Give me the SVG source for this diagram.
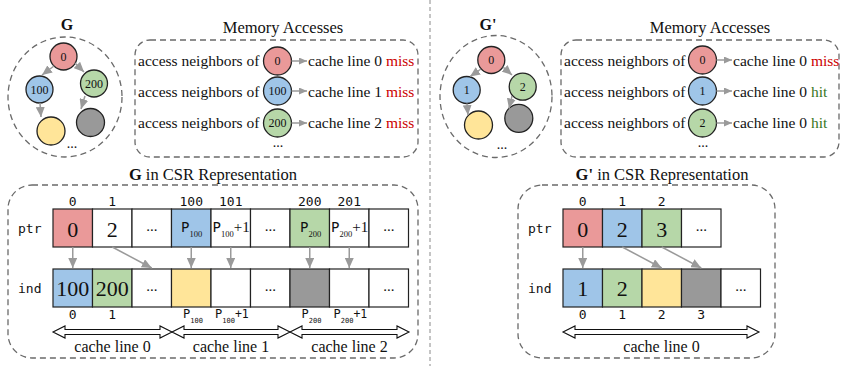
<svg xmlns="http://www.w3.org/2000/svg" width="842" height="366" viewBox="0 0 842 366">
  <style>
    .bg { fill: #ffffff; }
    .dash { fill: none; stroke: #6a6a6a; stroke-width: 1.3; stroke-dasharray: 6 4; }
    .divider { stroke: #8a8a8a; stroke-width: 1; stroke-dasharray: 4 3; }
    .node { stroke: #222; stroke-width: 1.3; }
    .cell { stroke: #222; stroke-width: 1.2; }
    .red { fill: #ea9999; }
    .blue { fill: #9fc5e8; }
    .green { fill: #b6d7a8; }
    .yellow { fill: #ffe599; }
    .gray { fill: #999999; }
    .white { fill: #ffffff; }
    .serif { font-family: "Liberation Serif", "Times New Roman", serif; fill: #111; }
    .mono { font-family: "DejaVu Sans Mono", monospace; fill: #111; }
    .title { font-size: 16.5px; }
    .row { font-size: 15.5px; }
    .nlabel { font-size: 12px; text-anchor: middle; }
    .big { font-size: 22px; text-anchor: middle; }
    .idx { font-size: 13px; text-anchor: middle; }
    .sub { font-size: 8.5px; }
    .msub { font-size: 7px; }
    .miss { fill: #cc0000; }
    .hit { fill: #38761d; }
    .link { stroke: #9a9a9a; stroke-width: 1.5; fill: none; }
    .span { fill: #ffffff; stroke: #111; stroke-width: 1.1; }
  </style>
  <defs>
    <marker id="tri" markerUnits="userSpaceOnUse" markerWidth="10" markerHeight="9" refX="10" refY="4.5" orient="auto">
      <path d="M0,0 L10,4.5 L0,9 z" fill="#9a9a9a"/>
    </marker>
    <marker id="tri-s" markerUnits="userSpaceOnUse" markerWidth="8" markerHeight="7" refX="8" refY="3.5" orient="auto">
      <path d="M0,0 L8,3.5 L0,7 z" fill="#9a9a9a"/>
    </marker>
  </defs>

  <rect class="bg" x="0" y="0" width="842" height="366"/>

  <!-- panel divider -->
  <line class="divider" x1="430" y1="0" x2="430" y2="366"/>

  <!-- ================= left panel: G ================= -->
  <g id="graph-g">
    <text class="serif" x="67" y="30" font-size="16" font-weight="bold" text-anchor="middle">G</text>
    <ellipse class="dash" cx="65" cy="97" rx="57" ry="60"/>
    <circle class="node red" cx="63.5" cy="56.5" r="13.5"/>
    <text class="serif nlabel" x="63.5" y="60.5">0</text>
    <circle class="node blue" cx="39.5" cy="89.5" r="13.5"/>
    <text class="serif nlabel" x="39.5" y="93.5">100</text>
    <circle class="node green" cx="94" cy="83.5" r="13.5"/>
    <text class="serif nlabel" x="94" y="87.5">200</text>
    <circle class="node yellow" cx="51" cy="131" r="14"/>
    <circle class="node gray" cx="90.5" cy="122.5" r="14"/>
    <text class="serif" x="72" y="148" font-size="14" text-anchor="middle">...</text>
  </g>

  <g id="access-g">
    <text class="serif title" x="283" y="33" text-anchor="middle">Memory Accesses</text>
    <rect class="dash" x="135" y="40" width="283" height="117" rx="15"/>
    <text class="serif row" x="138" y="66">access neighbors of</text>
    <circle class="node red" cx="277.5" cy="61" r="14"/>
    <text class="serif nlabel" x="277.5" y="65">0</text>
    <text class="serif row" x="308" y="66">cache line 0 <tspan class="miss">miss</tspan></text>

    <text class="serif row" x="138" y="97">access neighbors of</text>
    <circle class="node blue" cx="277.5" cy="91" r="14"/>
    <text class="serif nlabel" x="277.5" y="95">100</text>
    <text class="serif row" x="308" y="97">cache line 1 <tspan class="miss">miss</tspan></text>

    <text class="serif row" x="138" y="128">access neighbors of</text>
    <circle class="node green" cx="277.5" cy="123" r="14"/>
    <text class="serif nlabel" x="277.5" y="127">200</text>
    <text class="serif row" x="308" y="128">cache line 2 <tspan class="miss">miss</tspan></text>

    <text class="serif" x="278" y="147" font-size="14" text-anchor="middle">...</text>
  </g>

  <g id="csr-g">
    <text class="serif title" x="213" y="180" text-anchor="middle"><tspan font-weight="bold">G</tspan> in CSR Representation</text>
    <rect class="dash" x="8" y="185" width="410" height="173" rx="24"/>

    <text class="mono" x="18" y="233" font-size="13">ptr</text>
    <text class="mono" x="18" y="293" font-size="13">ind</text>

    <!-- index labels above ptr -->
    <text class="mono idx" x="72.75" y="206">0</text>
    <text class="mono idx" x="112.25" y="206">1</text>
    <text class="mono idx" x="191.25" y="206">100</text>
    <text class="mono idx" x="230.75" y="206">101</text>
    <text class="mono idx" x="309.75" y="206">200</text>
    <text class="mono idx" x="349.25" y="206">201</text>

    <!-- ptr row -->
    <rect class="cell red" x="53" y="209" width="39.5" height="38"/>
    <rect class="cell white" x="92.5" y="209" width="39.5" height="38"/>
    <rect class="cell white" x="132" y="209" width="39.5" height="38"/>
    <rect class="cell blue" x="171.5" y="209" width="39.5" height="38"/>
    <rect class="cell white" x="211" y="209" width="39.5" height="38"/>
    <rect class="cell white" x="250.5" y="209" width="39.5" height="38"/>
    <rect class="cell green" x="290" y="209" width="39.5" height="38"/>
    <rect class="cell white" x="329.5" y="209" width="39.5" height="38"/>
    <rect class="cell white" x="369" y="209" width="39.5" height="38"/>
    <text class="serif big" x="72.75" y="237">0</text>
    <text class="serif big" x="112.25" y="237">2</text>
    <text class="serif" x="151.75" y="231" font-size="15" text-anchor="middle">...</text>
    <text x="181" y="232"><tspan class="mono" font-size="14">P</tspan><tspan class="serif sub" dy="5">100</tspan></text>
    <text x="212.5" y="232"><tspan class="mono" font-size="14">P</tspan><tspan class="serif sub" dy="5">100</tspan><tspan class="serif" font-size="15" dy="-5">+1</tspan></text>
    <text class="serif" x="270.25" y="231" font-size="15" text-anchor="middle">...</text>
    <text x="300" y="232"><tspan class="mono" font-size="14">P</tspan><tspan class="serif sub" dy="5">200</tspan></text>
    <text x="331" y="232"><tspan class="mono" font-size="14">P</tspan><tspan class="serif sub" dy="5">200</tspan><tspan class="serif" font-size="15" dy="-5">+1</tspan></text>
    <text class="serif" x="388.75" y="231" font-size="15" text-anchor="middle">...</text>

    <!-- ind row -->
    <rect class="cell blue" x="53" y="269" width="39.5" height="38"/>
    <rect class="cell green" x="92.5" y="269" width="39.5" height="38"/>
    <rect class="cell white" x="132" y="269" width="39.5" height="38"/>
    <rect class="cell yellow" x="171.5" y="269" width="39.5" height="38"/>
    <rect class="cell white" x="211" y="269" width="39.5" height="38"/>
    <rect class="cell white" x="250.5" y="269" width="39.5" height="38"/>
    <rect class="cell gray" x="290" y="269" width="39.5" height="38"/>
    <rect class="cell white" x="329.5" y="269" width="39.5" height="38"/>
    <rect class="cell white" x="369" y="269" width="39.5" height="38"/>
    <text class="serif big" x="72.75" y="296">100</text>
    <text class="serif big" x="112.25" y="296">200</text>
    <text class="serif" x="151.75" y="291" font-size="15" text-anchor="middle">...</text>
    <text class="serif" x="270.25" y="291" font-size="15" text-anchor="middle">...</text>
    <text class="serif" x="388.75" y="291" font-size="15" text-anchor="middle">...</text>

    <!-- index labels below ind -->
    <text class="mono idx" x="72.75" y="319">0</text>
    <text class="mono idx" x="112.25" y="319">1</text>
    <text x="183" y="318" class="mono"><tspan font-size="12">P</tspan><tspan class="msub" dy="4.5">100</tspan></text>
    <text x="215" y="318" class="mono"><tspan font-size="12">P</tspan><tspan class="msub" dy="4.5">100</tspan><tspan font-size="11.5" dy="-4.5">+1</tspan></text>
    <text x="301.5" y="318" class="mono"><tspan font-size="12">P</tspan><tspan class="msub" dy="4.5">200</tspan></text>
    <text x="333.5" y="318" class="mono"><tspan font-size="12">P</tspan><tspan class="msub" dy="4.5">200</tspan><tspan font-size="11.5" dy="-4.5">+1</tspan></text>

    <!-- cache line spans -->
    <path class="span" d="M53,332 L65,326 L65,329.5 L160,329.5 L160,326 L172,332 L160,338 L160,334.5 L65,334.5 L65,338 Z"/>
    <path class="span" d="M172,332 L184,326 L184,329.5 L278,329.5 L278,326 L290,332 L278,338 L278,334.5 L184,334.5 L184,338 Z"/>
    <path class="span" d="M290,332 L302,326 L302,329.5 L397,329.5 L397,326 L409,332 L397,338 L397,334.5 L302,334.5 L302,338 Z"/>
    <text class="serif" x="112.5" y="352" font-size="16" text-anchor="middle">cache line 0</text>
    <text class="serif" x="231" y="352" font-size="16" text-anchor="middle">cache line 1</text>
    <text class="serif" x="349.5" y="352" font-size="16" text-anchor="middle">cache line 2</text>
  </g>

  <!-- ================= right panel: G' ================= -->
  <g id="graph-g2">
    <text class="serif" x="488" y="30" font-size="16" font-weight="bold" text-anchor="middle">G'</text>
    <ellipse class="dash" cx="496" cy="96.5" rx="56" ry="61"/>
    <circle class="node red" cx="491.3" cy="60" r="13.5"/>
    <text class="serif nlabel" x="491.3" y="64">0</text>
    <circle class="node blue" cx="466.7" cy="90" r="13.5"/>
    <text class="serif nlabel" x="466.7" y="94">1</text>
    <circle class="node green" cx="522.7" cy="86.7" r="13.5"/>
    <text class="serif nlabel" x="522.7" y="90.7">2</text>
    <circle class="node yellow" cx="478.5" cy="125" r="14"/>
    <circle class="node gray" cx="518.8" cy="118.3" r="14"/>
    <text class="serif" x="502" y="149" font-size="14" text-anchor="middle">...</text>
  </g>

  <g id="access-g2">
    <text class="serif title" x="710" y="33" text-anchor="middle">Memory Accesses</text>
    <rect class="dash" x="561" y="40" width="278" height="117" rx="15"/>
    <text class="serif row" x="564" y="66">access neighbors of</text>
    <circle class="node red" cx="702.5" cy="60" r="14"/>
    <text class="serif nlabel" x="702.5" y="64">0</text>
    <text class="serif row" x="733" y="66">cache line 0 <tspan class="miss">miss</tspan></text>

    <text class="serif row" x="564" y="97">access neighbors of</text>
    <circle class="node blue" cx="702.5" cy="91" r="14"/>
    <text class="serif nlabel" x="702.5" y="95">1</text>
    <text class="serif row" x="733" y="97">cache line 0 <tspan class="hit">hit</tspan></text>

    <text class="serif row" x="564" y="128">access neighbors of</text>
    <circle class="node green" cx="702.5" cy="123" r="14"/>
    <text class="serif nlabel" x="702.5" y="127">2</text>
    <text class="serif row" x="733" y="128">cache line 0 <tspan class="hit">hit</tspan></text>

    <text class="serif" x="703" y="147" font-size="14" text-anchor="middle">...</text>
  </g>

  <g id="csr-g2">
    <text class="serif title" x="662" y="180" text-anchor="middle"><tspan font-weight="bold">G'</tspan> in CSR Representation</text>
    <rect class="dash" x="518" y="185" width="257" height="173" rx="24"/>

    <text class="mono" x="528" y="233" font-size="13">ptr</text>
    <text class="mono" x="528" y="293" font-size="13">ind</text>

    <text class="mono idx" x="582.75" y="206">0</text>
    <text class="mono idx" x="622.25" y="206">1</text>
    <text class="mono idx" x="661.75" y="206">2</text>

    <rect class="cell red" x="563" y="209" width="39.5" height="38"/>
    <rect class="cell blue" x="602.5" y="209" width="39.5" height="38"/>
    <rect class="cell green" x="642" y="209" width="39.5" height="38"/>
    <rect class="cell white" x="681.5" y="209" width="39.5" height="38"/>
    <text class="serif big" x="582.75" y="237">0</text>
    <text class="serif big" x="622.25" y="237">2</text>
    <text class="serif big" x="661.75" y="237">3</text>
    <text class="serif" x="701.25" y="231" font-size="15" text-anchor="middle">...</text>

    <rect class="cell blue" x="563" y="269" width="39.5" height="38"/>
    <rect class="cell green" x="602.5" y="269" width="39.5" height="38"/>
    <rect class="cell yellow" x="642" y="269" width="39.5" height="38"/>
    <rect class="cell gray" x="681.5" y="269" width="39.5" height="38"/>
    <rect class="cell white" x="721" y="269" width="39.5" height="38"/>
    <text class="serif big" x="582.75" y="296">1</text>
    <text class="serif big" x="622.25" y="296">2</text>
    <text class="serif" x="740.75" y="291" font-size="15" text-anchor="middle">...</text>

    <text class="mono idx" x="582.75" y="319">0</text>
    <text class="mono idx" x="622.25" y="319">1</text>
    <text class="mono idx" x="661.75" y="319">2</text>
    <text class="mono idx" x="701.25" y="319">3</text>

    <path class="span" d="M563,332 L575,326 L575,329.5 L747,329.5 L747,326 L759,332 L747,338 L747,334.5 L575,334.5 L575,338 Z"/>
    <text class="serif" x="661.5" y="352" font-size="16" text-anchor="middle">cache line 0</text>
  </g>

  <!-- ================= connectors ================= -->
  <g id="connectors">
    <!-- G edges -->
    <line class="link" x1="54" y1="66" x2="42" y2="75" marker-end="url(#tri)"/>
    <line class="link" x1="75" y1="63" x2="84" y2="72" marker-end="url(#tri)"/>
    <line class="link" x1="40" y1="103" x2="41" y2="117" marker-end="url(#tri)"/>
    <line class="link" x1="85" y1="96" x2="81" y2="109" marker-end="url(#tri)"/>
    <!-- G' edges -->
    <line class="link" x1="481" y1="69" x2="470" y2="76.5" marker-end="url(#tri)"/>
    <line class="link" x1="503" y1="67" x2="512" y2="75" marker-end="url(#tri)"/>
    <line class="link" x1="467" y1="103.5" x2="468" y2="115" marker-end="url(#tri)"/>
    <line class="link" x1="512" y1="96" x2="509" y2="108.5" marker-end="url(#tri)"/>

    <!-- access -> cache line -->
    <line class="link" x1="291.5" y1="61" x2="307" y2="61" marker-end="url(#tri-s)"/>
    <line class="link" x1="291.5" y1="91" x2="307" y2="91" marker-end="url(#tri-s)"/>
    <line class="link" x1="291.5" y1="123" x2="307" y2="123" marker-end="url(#tri-s)"/>
    <line class="link" x1="716.5" y1="60" x2="732" y2="60" marker-end="url(#tri-s)"/>
    <line class="link" x1="716.5" y1="91" x2="732" y2="91" marker-end="url(#tri-s)"/>
    <line class="link" x1="716.5" y1="123" x2="732" y2="123" marker-end="url(#tri-s)"/>

    <!-- ptr -> ind (G) -->
    <line class="link" x1="72.75" y1="247" x2="72.75" y2="268" marker-end="url(#tri)"/>
    <line class="link" x1="112.25" y1="247" x2="151.75" y2="268" marker-end="url(#tri)"/>
    <line class="link" x1="191.25" y1="247" x2="191.25" y2="268" marker-end="url(#tri)"/>
    <line class="link" x1="230.75" y1="247" x2="230.75" y2="268" marker-end="url(#tri)"/>
    <line class="link" x1="309.75" y1="247" x2="309.75" y2="268" marker-end="url(#tri)"/>
    <line class="link" x1="349.25" y1="247" x2="349.25" y2="268" marker-end="url(#tri)"/>

    <!-- ptr -> ind (G') -->
    <line class="link" x1="582.75" y1="247" x2="582.75" y2="268" marker-end="url(#tri)"/>
    <line class="link" x1="622.25" y1="247" x2="661.75" y2="268" marker-end="url(#tri)"/>
    <line class="link" x1="661.75" y1="247" x2="701.25" y2="268" marker-end="url(#tri)"/>
  </g>
</svg>
